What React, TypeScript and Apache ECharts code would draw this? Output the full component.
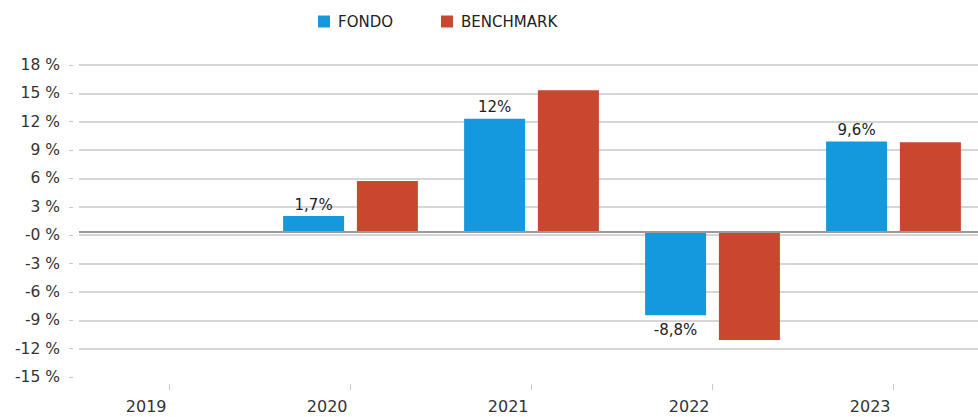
import React, { useEffect, useRef } from "react";
import * as echarts from "echarts";

const categories = ["2019", "2020", "2021", "2022", "2023"];
const fondoValues: (number | null)[] = [null, 1.7, 12, -8.8, 9.6];
const benchmarkValues: (number | null)[] = [null, 5.4, 15.0, -11.4, 9.5];
const yTickValues = [-15.32, -12.32, -9.32, -6.32, -3.32, -0.32, 2.68, 5.68, 8.68, 11.68, 14.68, 17.68];

const FONT = "DejaVu Sans";

function fmtPct(v: number) {
  return String(v).replace(".", ",") + "%";
}

export default function App() {
  const ref = useRef<HTMLDivElement>(null);
  useEffect(() => {
    document.body.style.margin = "0";
    if (!ref.current) return;
    const chart = echarts.init(ref.current, undefined, { renderer: "svg" });
    const splitColors = yTickValues.map((_, i) => (i === 0 ? "rgba(0,0,0,0)" : "#d6d6d6"));
    chart.setOption({
      animation: false,
      backgroundColor: "#ffffff",
      legend: {
        data: ["FONDO", "BENCHMARK"],
        left: 318,
        top: 14,
        padding: 0,
        icon: "rect",
        itemWidth: 12,
        itemHeight: 12,
        itemGap: 48,
        textStyle: { fontFamily: FONT, fontSize: 15, color: "#222", padding: [0, 0, 0, 3] },
      },
      grid: { left: 79, width: 905, top: 65, bottom: 417 - 377, outerBoundsMode: "none", containLabel: false },
      xAxis: {
        type: "category",
        data: categories,
        position: "bottom",
        offset: 7,
        axisLine: { show: false, onZero: false },
        axisTick: { show: true, alignWithLabel: true, length: 6, lineStyle: { color: "#c8c8c8" } },
        axisLabel: {
          align: "right",
          margin: 14,
          padding: [0, 3, 0, 0],
          fontFamily: FONT,
          fontSize: 16,
          color: "#333",
        },
        splitLine: { show: false },
      },
      yAxis: {
        type: "value",
        min: yTickValues[0],
        max: yTickValues[yTickValues.length - 1],
        offset: 6,
        axisLine: { show: false },
        axisTick: { show: true, length: 4, customValues: yTickValues, lineStyle: { color: "#c8c8c8" } },
        axisLabel: {
          customValues: yTickValues,
          margin: 13,
          fontFamily: FONT,
          fontSize: 15.5,
          color: "#333",
          formatter: (v: number) => v.toFixed(0) + " %",
        },
        splitLine: { show: true, lineStyle: { color: splitColors, width: 2 } },
      },
      series: [
        {
          name: "FONDO",
          type: "bar",
          barWidth: 61,
          barGap: "21%",
          itemStyle: { color: "#1499de" },
          data: fondoValues.map((v) => ({
            value: v,
            label: { position: v !== null && v < 0 ? "bottom" : "top", distance: v !== null && v < 0 ? 7 : 4 },
          })),
          label: {
            show: true,
            fontFamily: FONT,
            fontSize: 15,
            color: "#222",
            formatter: (p: any) => (p.value === null || p.value === undefined ? "" : fmtPct(p.value)),
          },
          markLine: {
            silent: true,
            symbol: ["none", "none"],
            label: { show: false },
            lineStyle: { color: "#9a9a9a", width: 2, type: "solid" },
            data: [{ yAxis: 0 }],
          },
        },
        {
          name: "BENCHMARK",
          type: "bar",
          barWidth: 61,
          barGap: "21%",
          itemStyle: { color: "#c9462f" },
          data: benchmarkValues,
        },
      ],
    });
    return () => chart.dispose();
  }, []);
  return <div ref={ref} style={{ width: 978, height: 417 }} />;
}
